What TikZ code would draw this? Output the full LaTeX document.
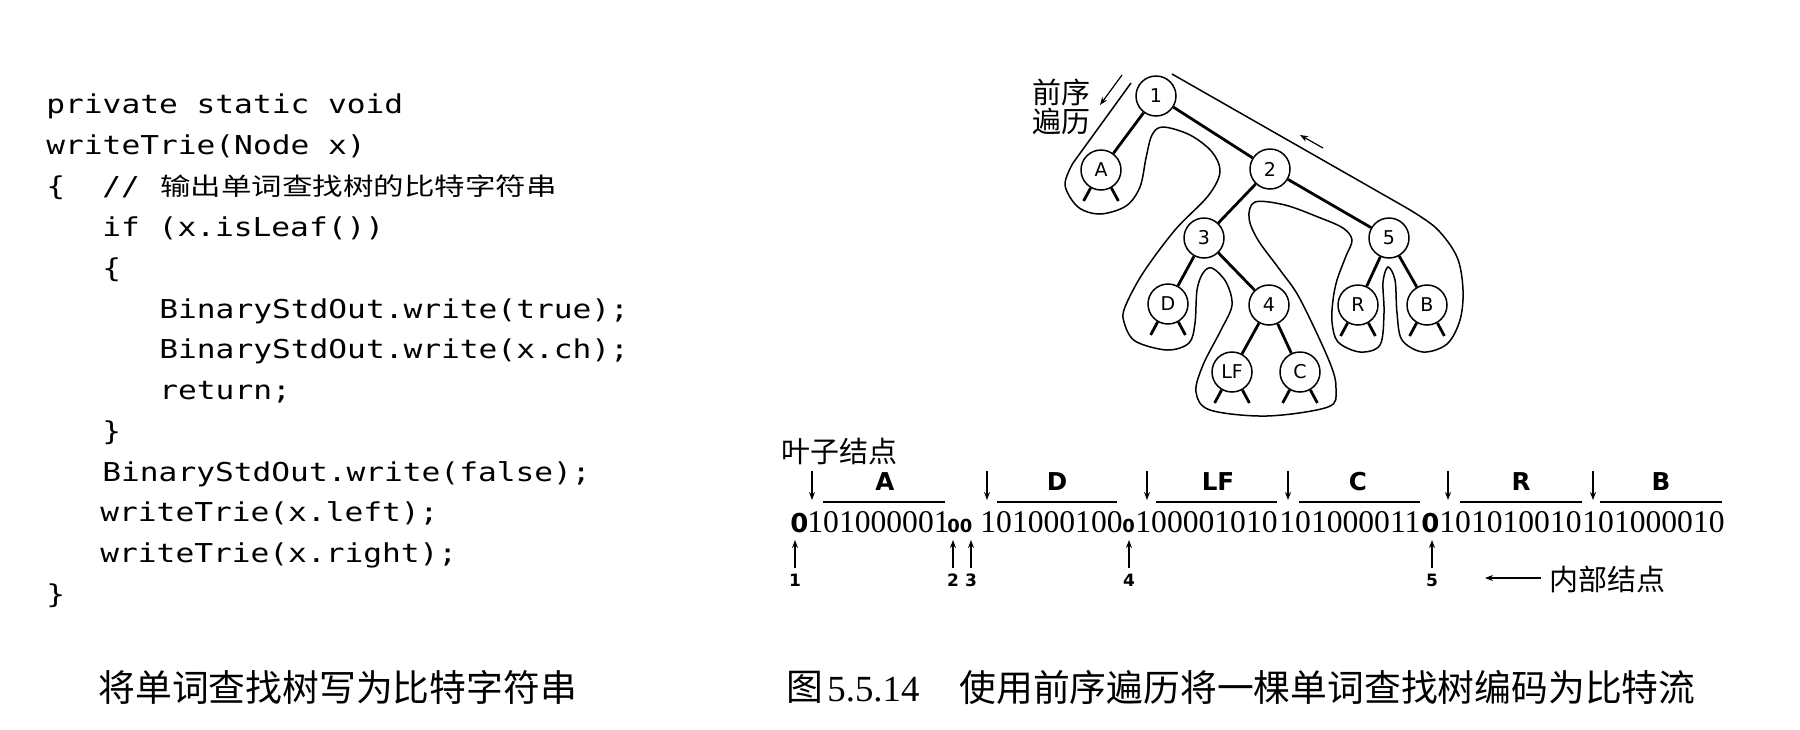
\documentclass[tikz,border=0pt]{standalone}
\usepackage{fontspec}
\setmainfont{Liberation Serif}
\newfontfamily\cjk{Noto Sans CJK SC}
\newfontfamily\cjkwide[FakeStretch=1.25]{Noto Sans CJK SC}
\newfontfamily\codefont[FakeStretch=1.2]{DejaVu Sans Mono}
\newfontfamily\lblfont{DejaVu Sans}
\usetikzlibrary{arrows.meta,calc}

\tikzset{
  tnode/.style={circle, draw, line width=0.75pt, minimum size=20pt, inner sep=0pt,
                fill=white, font=\lblfont\fontsize{9.5}{11}\selectfont},
  tedge/.style={line width=1.4pt},
  stub/.style={line width=1.4pt},
  tour/.style={line width=0.75pt},
  codeline/.style={anchor=base west, inner sep=0pt, font=\codefont\fontsize{13}{15}\selectfont},
  cjkcomment/.style={anchor=base west, inner sep=0pt, font=\cjkwide\fontsize{12.2}{14}\selectfont},
  bits/.style={anchor=base west, inner sep=0pt, font=\fontsize{15.8}{18}\selectfont},
  bigzero/.style={anchor=base west, inner sep=0pt, font=\lblfont\bfseries\fontsize{13}{15}\selectfont},
  smallzero/.style={anchor=base west, inner sep=0pt, font=\lblfont\bfseries\fontsize{9}{11}\selectfont},
  seglabel/.style={anchor=base, inner sep=0pt, font=\lblfont\bfseries\fontsize{12.3}{14}\selectfont},
  poslabel/.style={anchor=base, inner sep=0pt, font=\lblfont\bfseries\fontsize{8.5}{10}\selectfont},
  segbar/.style={line width=1.4pt},
  pointer/.style={-{Stealth[length=4pt,width=3pt]}, line width=0.6pt},
  cjklabel/.style={inner sep=0pt, font=\cjk\fontsize{14.5}{17}\selectfont},
  caption/.style={anchor=west, inner sep=0pt, font=\cjk\fontsize{18.4}{22}\selectfont},
}

\begin{document}
\begin{tikzpicture}[x=0.5pt, y=-0.5pt]
\useasboundingbox (0,0) rectangle (1800,729);

% ---------------- code listing ----------------
\node[codeline] (c1)  at (46,113)  {private static void};
\node[codeline] (c2)  at (46,154)  {writeTrie(Node x)};
\node[codeline] (c3a) at (46,195)  {\{};
\node[codeline] (c3b) at (102,195) {//};
\node[cjkcomment] (c3c) at (160,195) {输出单词查找树的比特字符串};
\node[codeline] (c4)  at (102,236) {if (x.isLeaf())};
\node[codeline] (c5)  at (102,277) {\{};
\node[codeline] (c6)  at (159,318) {BinaryStdOut.write(true);};
\node[codeline] (c7)  at (159,358) {BinaryStdOut.write(x.ch);};
\node[codeline] (c8)  at (159,399) {return;};
\node[codeline] (c9)  at (102,440) {\}};
\node[codeline] (c10) at (102,481) {BinaryStdOut.write(false);};
\node[codeline] (c11) at (100,521) {writeTrie(x.left);};
\node[codeline] (c12) at (100,562) {writeTrie(x.right);};
\node[codeline] (c13) at (46,603)  {\}};

% ---------------- trie ----------------
% Euler tour around the trie (preorder traversal)
\draw[tour] (1131,83) -- (1073,163)
  -- plot[smooth, tension=0.55] coordinates {
    (1073,163) (1065,185) (1078,207) (1100,214) (1126,206) (1140,187)
    (1146,158) (1152,135) (1163,127) (1190,135) (1212,152) (1220,172)
    (1208,196) (1175,230) (1143,273) (1125,307) (1124,322) (1135,341)
    (1167,350) (1189,343) (1195,323) (1197,290) (1203,273) (1212,268)
    (1226,282) (1232,305) (1221,330) (1203,365) (1196,392) (1210,410)
    (1267,416) (1328,407) (1336,390) (1330,363) (1300,299) (1280,270)
    (1258,240) (1249,218) (1255,202) (1285,205) (1318,217) (1343,228)
    (1352,240) (1346,256) (1337,280) (1333,300) (1332,322) (1338,342)
    (1360,352) (1380,345) (1384,313) (1383,282) (1388,267) (1395,280)
    (1397,313) (1402,340) (1423,352) (1447,344) (1460,320) (1463,290)
    (1457,257) (1436,228) (1405,207)}
  -- (1172,74);

\coordinate (tl0) at (1122,75);
\coordinate (tl1) at (1100,105);
\draw[pointer] (tl0) -- (tl1);
\coordinate (tr0) at (1323,148);
\coordinate (tr1) at (1300,135);
\draw[pointer] (tr0) -- (tr1);

\node[cjklabel] (pre1) at (1061,92)  {前序};
\node[cjklabel] (pre2) at (1061,121) {遍历};

% nodes
\node[tnode] (n1) at (1156,96)  {1};
\node[tnode] (nA) at (1101,170) {A};
\node[tnode] (n2) at (1270,169) {2};
\node[tnode] (n3) at (1204,238) {3};
\node[tnode] (n5) at (1389,238) {5};
\node[tnode] (nD) at (1168,304) {D};
\node[tnode] (n4) at (1269,305) {4};
\node[tnode] (nLF) at (1232,372) {LF};
\node[tnode] (nC) at (1300,372) {C};
\node[tnode] (nR) at (1358,305) {R};
\node[tnode] (nB) at (1427,305) {B};

% edges
\foreach \a/\b in {n1/nA, n1/n2, n2/n3, n2/n5, n3/nD, n3/n4, n4/nLF, n4/nC, n5/nR, n5/nB}
  \draw[tedge] (\a) -- (\b);

% null links below the leaves
\foreach \l in {nA, nD, nLF, nC, nR, nB} {
  \draw[stub] (\l.-120) -- ++(-7,13);
  \draw[stub] (\l.-60) -- ++(7,13);
}

% ---------------- bit stream ----------------
\node[cjklabel, anchor=west] (leaf) at (781,451) {叶子结点};

\node[bigzero]   (b0)  at (790,532)  {0};
\node[bits]      (bA)  at (807,532)  {101000001};
\node[smallzero] (b23) at (947,532)  {00};
\node[bits]      (bD)  at (980,532)  {101000100};
\node[smallzero] (b4)  at (1122,532) {0};
\node[bits]      (bLF) at (1135,532) {100001010};
\node[bits]      (bC)  at (1279,532) {101000011};
\node[bigzero]   (b5)  at (1421,532) {0};
\node[bits]      (bR)  at (1439,532) {101010010};
\node[bits]      (bB)  at (1582,532) {101000010};

% character labels with their bars
\foreach \t/\xa/\xb/\xm in {A/823/945/885, D/997/1117/1057, LF/1156/1277/1218,
                            C/1299/1420/1358, R/1460/1582/1521, B/1600/1722/1661} {
  \node[seglabel] (lab\t) at (\xm,490) {\t};
  \coordinate (bar\t a) at (\xa,502);
  \coordinate (bar\t b) at (\xb,502);
  \draw[segbar] (bar\t a) -- (bar\t b);
}

% leaf markers
\foreach \i/\x in {1/812, 2/987, 3/1147, 4/1288, 5/1448, 6/1593} {
  \coordinate (dt\i) at (\x,471);
  \coordinate (db\i) at (\x,500);
  \draw[pointer] (dt\i) -- (db\i);
}

% internal node markers
\foreach \i/\x in {1/795, 2/953, 3/971, 4/1129, 5/1432} {
  \node[poslabel] (p\i) at (\x,586) {\i};
  \coordinate (ut\i) at (\x,540);
  \coordinate (ub\i) at (\x,568);
  \draw[pointer] (ub\i) -- (ut\i);
}

\node[cjklabel, anchor=west] (inner) at (1549,579) {内部结点};
\coordinate (ia) at (1541,578);
\coordinate (ib) at (1485,578);
\draw[pointer] (ia) -- (ib);

% ---------------- captions ----------------
\node[caption] (capL) at (98,687) {将单词查找树写为比特字符串};
\node[caption] (capR0) at (786,687) {图};
\node[anchor=west, inner sep=0pt, font=\fontsize{18.4}{22}\selectfont] (capR1) at (827,690) {5.5.14};
\node[caption] (capR2) at (959,687) {使用前序遍历将一棵单词查找树编码为比特流};
\end{tikzpicture}
\end{document}
